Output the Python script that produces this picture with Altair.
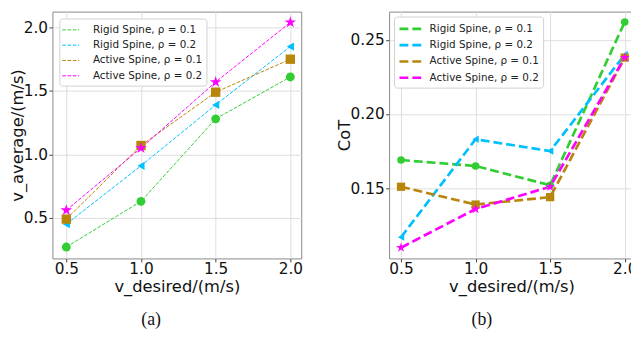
import altair as alt
import pandas as pd

x_desired = [0.5, 1.0, 1.5, 2.0]
series_names = ["Rigid Spine, ρ = 0.1", "Rigid Spine, ρ = 0.2",
                "Active Spine, ρ = 0.1", "Active Spine, ρ = 0.2"]
v_rigid_01 = [0.27, 0.63, 1.28, 1.61]
v_rigid_02 = [0.45, 0.91, 1.39, 1.85]
v_active_01 = [0.49, 1.07, 1.49, 1.75]
v_active_02 = [0.56, 1.05, 1.57, 2.04]
cot_rigid_01 = [0.169, 0.165, 0.152, 0.262]
cot_rigid_02 = [0.117, 0.183, 0.175, 0.240]
cot_active_01 = [0.151, 0.139, 0.144, 0.238]
cot_active_02 = [0.110, 0.136, 0.151, 0.238]

colors = ["#32CD32", "#00BFFF", "#B8860B", "#FF00FF"]
star = ("M0,-1L0.2245,-0.309L0.951,-0.309L0.363,0.118L0.588,0.809L0,0.382"
        "L-0.588,0.809L-0.363,0.118L-0.951,-0.309L-0.2245,-0.309Z")
shapes = ["circle", "triangle-left", "square", star]

def frame(values_list):
    rows = []
    for i, (name, vals) in enumerate(zip(series_names, values_list)):
        for xv, yv in zip(x_desired, vals):
            rows.append({"x": xv, "y": yv, "series": name, "order": i})
    return pd.DataFrame(rows)

df_v = frame([v_rigid_01, v_rigid_02, v_active_01, v_active_02])
df_c = frame([cot_rigid_01, cot_rigid_02, cot_active_01, cot_active_02])

FONT = "DejaVu Sans"

def panel(df, xdom, ydom, yticks, yfmt, ytitle, w, h, dash, sw, msizes, caption,
          cap_dx, sympath, loffset):
    xenc = alt.X("x:Q", scale=alt.Scale(domain=xdom, nice=False, zero=False),
                 axis=alt.Axis(values=x_desired, format=".1f", title="v_desired/(m/s)",
                               titlePadding=1, labelPadding=0))
    yenc = alt.Y("y:Q", scale=alt.Scale(domain=ydom, nice=False, zero=False),
                 axis=alt.Axis(values=yticks, format=yfmt, title=ytitle,
                               titlePadding=-2, labelPadding=1.5))
    legend = alt.Legend(title=None, orient="top-left", offset=loffset,
                        symbolType=sympath, symbolDash=dash,
                        symbolStrokeWidth=sw, symbolSize=196,
                        symbolFillColor="transparent",
                        labelFont=FONT, labelFontSize=10.5, labelColor="#222",
                        fillColor="white", strokeColor="#d0d0d0",
                        cornerRadius=3, padding=4, rowPadding=2.5,
                        labelOffset=15, labelLimit=300)
    cscale = alt.Scale(domain=series_names, range=colors)
    line = alt.Chart(df).mark_line(strokeDash=dash, strokeWidth=sw).encode(
        x=xenc, y=yenc,
        color=alt.Color("series:N", scale=cscale, legend=legend, sort=series_names),
        order="x:Q")
    layers = [line]
    for name, col, shp, ms in zip(series_names, colors, shapes, msizes):
        layers.append(
            alt.Chart(df).transform_filter(alt.datum.series == name)
            .mark_point(filled=True, opacity=1, size=ms, strokeWidth=0,
                        color=col, shape=shp)
            .encode(x="x:Q", y="y:Q"))
    return alt.layer(*layers).properties(
        width=w, height=h,
        title=alt.TitleParams(caption, orient="bottom", font="Liberation Serif",
                              fontSize=18, fontWeight="normal", offset=17,
                              dx=cap_dx, color="#111"))

left = panel(df_v, [0.407, 2.073], [0.18, 2.125], [0.5, 1.0, 1.5, 2.0], ".1f",
             "v_average/(m/s)", 252, 250, [3.7, 1.6], 1.0, [80, 70, 90, 150], "(a)",
             -26, "M-1.21,0H1.21", 7)
right = panel(df_c, [0.42, 2.062], [0.1027, 0.269], [0.15, 0.20, 0.25], ".2f",
              "CoT", 248, 250, [9, 4], 2.7, [60, 55, 70, 110], "(b)",
              -30, "M-1,0H2.14", 5)

chart = alt.hconcat(left, right, spacing=32).resolve_legend(
    color="independent").resolve_scale(color="independent").properties(
    autosize=alt.AutoSizeParams(type="none")
).configure(
    padding={"left": 45, "top": 0, "right": 586, "bottom": 319},
    font=FONT
).configure_view(stroke="#888", strokeWidth=1).configure_axis(
    labelFont=FONT, titleFont=FONT, labelFontSize=15.5, titleFontSize=16.5,
    titleFontWeight="normal", labelColor="#111", titleColor="#111",
    gridColor="#dddddd", gridWidth=1, domain=False, tickColor="#444",
    tickSize=3.5, labelPadding=1.5, titlePadding=1
)

chart.save("out.html", embed_options={"renderer": "svg", "actions": False})
